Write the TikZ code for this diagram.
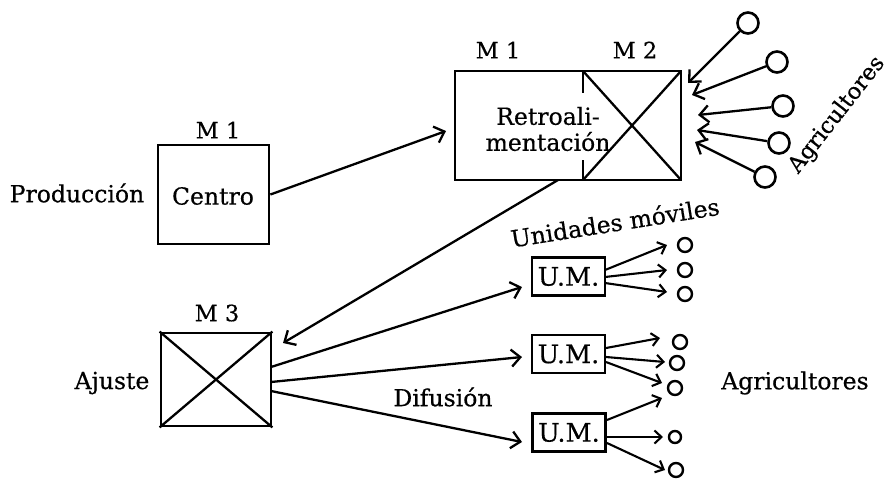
\documentclass[tikz,border=0pt]{standalone}
\usepackage{fontspec}
\setmainfont{DejaVu Serif}[FakeBold=0.5]
\usetikzlibrary{arrows.meta}
\begin{document}
\begin{tikzpicture}[x=1pt,y=-1pt,
  lbl/.style={font=\fontsize{23.5}{27}\selectfont, inner sep=0pt},
  mlbl/.style={font=\fontsize{22.5}{26}\selectfont, inner sep=0pt},
  boxst/.style={draw, line width=2.8pt, inner sep=0pt},
  umbox/.style={draw, line width=2.6pt, minimum width=73pt, minimum height=38pt, inner sep=0pt, font=\fontsize{25.5}{28}\selectfont},
  conn/.style={line width=2.3pt},
  arr/.style={line width=2.3pt, -{Straight Barb[length=9pt,width=17pt]}},
  sarr/.style={line width=2.1pt, -{Straight Barb[length=7pt,width=13pt]}},
  farm/.style={circle, draw, line width=2.6pt, minimum size=21pt, inner sep=0pt},
  sfarm/.style={circle, draw, line width=2.4pt, minimum size=14pt, inner sep=0pt}]
\useasboundingbox (0,0) rectangle (892,480);

% Centro box
\node[boxst, minimum width=111pt, minimum height=99pt] (centro) at (213.5,194.5) {};
\node[lbl] (centrot) at (213,196) {Centro};
\node[mlbl] (m1a) at (218,130) {M 1};
\node[lbl] (prod) at (77,193) {Producción};

% Feedback box
\node[boxst, minimum width=226pt, minimum height=109pt] (fb) at (568,125.5) {};
\coordinate (dtop) at (583,71);
\coordinate (dtopend) at (583,93);
\coordinate (dbot) at (583,180);
\coordinate (dbotend) at (583,160);
\coordinate (fbne) at (681,71);
\coordinate (fbse) at (681,180);
\draw[line width=2.4pt] (dtop) -- (dtopend);
\draw[line width=2.4pt] (dbot) -- (dbotend);
\draw[conn] (dtop) -- (fbse);
\draw[conn] (dbot) -- (fbne);
\node[lbl, align=center] (fbt) at (548,129) {Retroali-\\[-1pt]mentación};
\node[mlbl] (m1b) at (498,50) {M 1};
\node[mlbl] (m2) at (635,50) {M 2};

% M3 box
\node[boxst, minimum width=110pt, minimum height=93pt] (m3) at (216,379.5) {};
\draw[conn] (m3.north west) -- (m3.south east);
\draw[conn] (m3.south west) -- (m3.north east);
\node[mlbl] (m3l) at (217,313) {M 3};
\node[lbl] (ajuste) at (112,383) {Ajuste};
\node[lbl] (difusion) at (443,397) {Difusión};

% Centro -> feedback
\coordinate (fbin) at (446,131);
\draw[arr] (centro.east) -- (fbin);

% feedback -> M3
\coordinate (fbout) at (558,180);
\coordinate (m3in) at (283,343);
\draw[arr] (fbout) -- (m3in);

% Farmers top right
\node[farm] (f1) at (748,23) {};
\node[farm] (f2) at (777,62) {};
\node[farm] (f3) at (783,106) {};
\node[farm] (f4) at (779,143) {};
\node[farm] (f5) at (765,177) {};
\coordinate (t1) at (688,83);
\coordinate (t2) at (692,95);
\coordinate (t3) at (698,115);
\coordinate (t4) at (697,130);
\coordinate (t5) at (695,142);
\foreach \i in {1,...,5} \draw[arr] (f\i) -- (t\i);
\node[lbl, rotate=52, font=\fontsize{22.5}{26}\selectfont] (agr1) at (837,115) {Agricultores};

% Mobile units
\node[umbox] (um1) at (568.5,276.5) {U.M.};
\node[umbox] (um2) at (568.5,354) {U.M.};
\node[umbox] (um3) at (569,432.5) {U.M.};
\node[lbl, rotate=9] (umlabel) at (615,222) {Unidades móviles};
\node[lbl] (agr2) at (795,383) {Agricultores};

\coordinate (s1) at (271,367);
\coordinate (s2) at (271,382);
\coordinate (s3) at (271,391);
\coordinate (u1) at (522,287);
\coordinate (u2) at (522,357);
\coordinate (u3) at (522,442);
\draw[arr] (s1) -- (u1);
\draw[arr] (s2) -- (u2);
\draw[arr] (s3) -- (u3);

% small farmer circles
\node[sfarm] (c11) at (685,245) {};
\node[sfarm] (c12) at (685,270) {};
\node[sfarm] (c13) at (685,294) {};
\node[sfarm] (c21) at (680,342) {};
\node[sfarm] (c22) at (677,363) {};
\node[sfarm] (c23) at (675,388) {};
\node[sfarm, minimum size=12pt] (c31) at (675,437) {};
\node[sfarm] (c32) at (676,470) {};

\draw[sarr] (605,270) -- (667,245);
\draw[sarr] (605,277) -- (667,270);
\draw[sarr] (605,283) -- (667,292);
\draw[sarr] (606,348) -- (660,338);
\draw[sarr] (606,357) -- (665,362);
\draw[sarr] (606,362) -- (662,383);
\draw[sarr] (607,420) -- (662,398);
\draw[sarr] (607,437) -- (663,437);
\draw[sarr] (607,443) -- (665,470);
\end{tikzpicture}
\end{document}
